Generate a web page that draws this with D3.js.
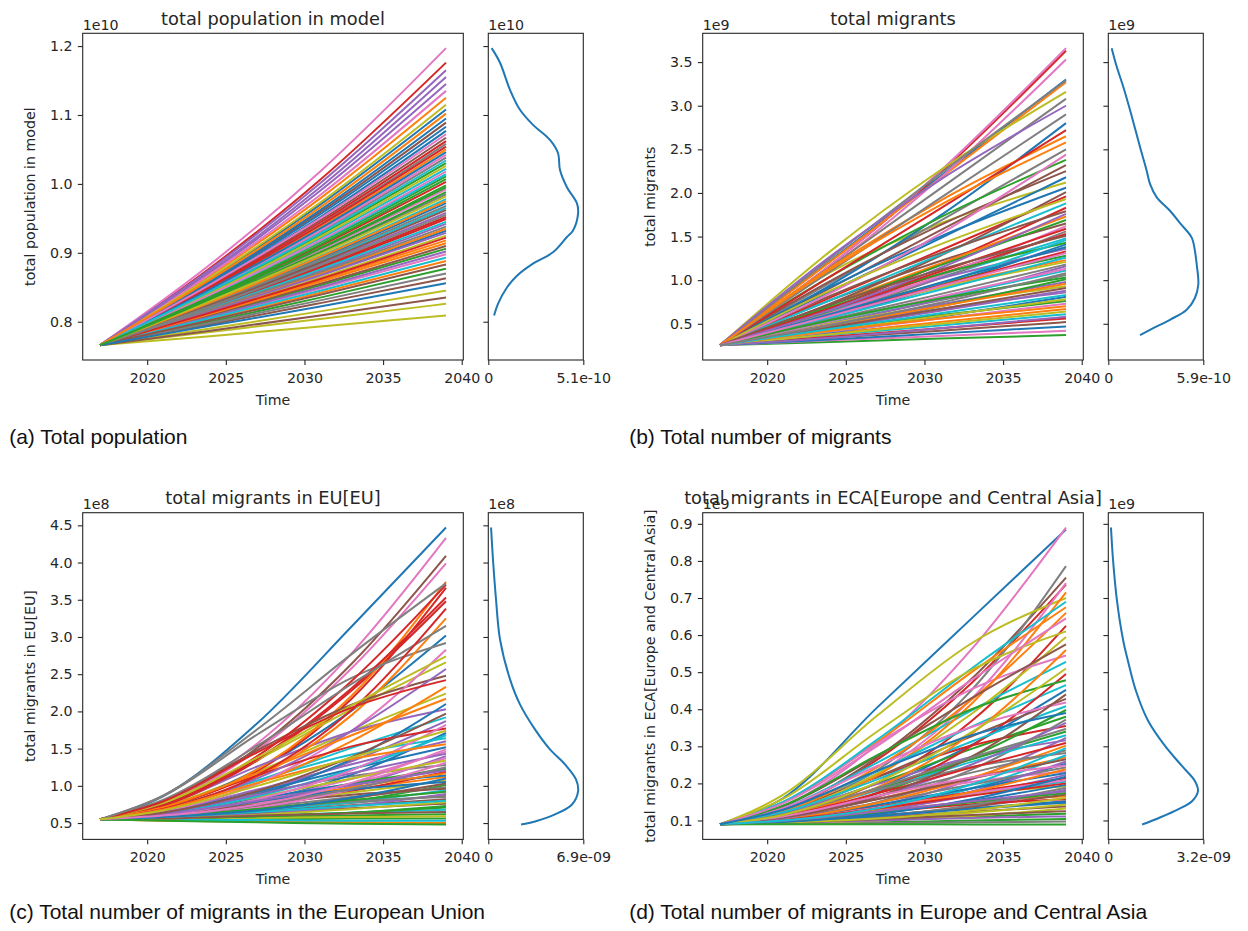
<!DOCTYPE html>
<html><head><meta charset="utf-8">
<script src="https://cdn.jsdelivr.net/npm/d3@7/dist/d3.min.js"></script>
<style>body{margin:0;background:#fff}svg{display:block}</style>
</head><body>
<script>
// ---------- shared axis settings ----------
const xTicks = [2020, 2025, 2030, 2035, 2040];

// ---------- (a) total population (x1e10) ----------
const popYears = [2017, 2024, 2031, 2039];
const popStart = 0.766;
const popSeries = [
 [0.827,0.892,0.972],[0.848,0.937,1.050],[0.808,0.853,0.906],[0.878,1.006,1.176],[0.819,0.874,0.942],
 [0.858,0.959,1.089],[0.883,1.018,1.197],[0.830,0.900,0.985],[0.779,0.793,0.809],[0.840,0.921,1.022],
 [0.816,0.868,0.932],[0.867,0.979,1.125],[0.800,0.835,0.877],[0.835,0.910,1.003],[0.823,0.884,0.958],
 [0.852,0.947,1.067],[0.806,0.848,0.898],[0.844,0.930,1.038],[0.785,0.804,0.826],[0.825,0.888,0.965],
 [0.862,0.970,1.108],[0.812,0.860,0.918],[0.838,0.915,1.011],[0.821,0.878,0.949],[0.871,0.990,1.145],
 [0.796,0.827,0.863],[0.832,0.904,0.992],[0.850,0.941,1.058],[0.814,0.864,0.925],[0.829,0.895,0.978],
 [0.854,0.952,1.077],[0.803,0.842,0.888],[0.843,0.926,1.030],[0.822,0.880,0.952],[0.876,1.001,1.165],
 [0.810,0.855,0.910],[0.845,0.932,1.042],[0.826,0.890,0.968],[0.790,0.815,0.845],[0.838,0.917,1.014],
 [0.859,0.962,1.095],[0.817,0.870,0.935],[0.834,0.907,0.998],[0.849,0.940,1.054],[0.807,0.850,0.902],
 [0.824,0.886,0.962],[0.869,0.984,1.135],[0.798,0.831,0.870],[0.841,0.923,1.026],[0.819,0.876,0.945],
 [0.856,0.956,1.083],[0.811,0.858,0.914],[0.831,0.901,0.988],[0.851,0.944,1.062],[0.815,0.867,0.929],
 [0.787,0.809,0.835],[0.839,0.918,1.018],[0.822,0.882,0.955],[0.864,0.973,1.115],[0.805,0.845,0.893],
 [0.847,0.935,1.046],[0.828,0.894,0.975],[0.836,0.912,1.007],[0.813,0.862,0.922],[0.873,0.995,1.155],
 [0.802,0.839,0.883],[0.854,0.950,1.072],[0.818,0.872,0.938],[0.830,0.898,0.982],[0.844,0.928,1.034],
 [0.794,0.822,0.856],[0.861,0.966,1.102],[0.833,0.906,0.995]
];
const popKdeValue   = [1.197,1.1758,1.1368,1.1076,1.0857,1.0638,1.0448,1.02,0.9952,0.9718,0.9572,0.9324,0.9226,0.9007,0.8842,0.8667,0.8496,0.8258,0.809];
const popKdeDensity = [0.18,0.63,1.16,1.70,2.40,3.31,3.74,3.85,4.22,4.76,4.82,4.55,4.21,3.47,2.40,1.54,1.00,0.52,0.31];
const popYTicks = [0.8, 0.9, 1.0, 1.1, 1.2];

// ---------- (b) total migrants (x1e9) ----------
const migYears = [2017, 2024, 2031, 2039];
const migStart = 0.255;
const migSeries = [
 [1.22,2.19,3.30],[0.62,0.93,1.23],[0.29,0.33,0.37],[1.17,2.23,3.63],[0.45,0.65,0.88],
 [0.77,1.22,1.65],[1.17,2.25,3.66],[0.51,0.77,1.06],[1.09,1.65,2.12],[0.37,0.48,0.61],
 [0.57,0.93,1.41],[1.21,2.17,3.27],[0.44,0.60,0.76],[0.80,1.34,1.96],[0.50,0.78,1.16],
 [0.34,0.42,0.52],[1.14,2.17,3.53],[0.97,1.68,2.50],[0.50,0.72,0.93],[0.64,1.03,1.48],
 [0.94,1.74,2.80],[0.39,0.52,0.67],[0.63,0.96,1.28],[0.68,1.18,1.83],[0.49,0.72,0.98],
 [0.99,1.63,2.25],[0.31,0.36,0.42],[0.61,1.02,1.56],[1.33,2.26,3.16],[0.53,0.80,1.11],
 [0.40,0.58,0.81],[0.72,1.19,1.73],[1.04,1.72,2.38],[0.35,0.45,0.56],[0.66,1.02,1.36],
 [0.73,1.28,2.01],[0.41,0.56,0.73],[1.15,2.05,3.08],[0.61,0.91,1.21],[0.77,1.29,1.88],
 [0.32,0.39,0.47],[1.14,1.91,2.65],[0.46,0.70,1.01],[0.66,1.07,1.53],[0.48,0.67,0.86],
 [0.91,1.57,2.32],[0.62,1.05,1.62],[1.25,2.22,3.29],[0.38,0.50,0.64],[0.57,0.89,1.26],
 [0.92,1.50,2.06],[0.48,0.70,0.96],[0.69,1.07,1.43],[1.04,1.82,2.72],[0.34,0.45,0.58],
 [0.82,1.31,1.79],[0.53,0.81,1.13],[1.10,1.94,2.90],[0.42,0.59,0.78],[0.58,0.96,1.46],
 [0.87,1.48,2.18],[0.42,0.56,0.70],[0.71,1.17,1.69],[0.60,0.94,1.33],[1.27,2.15,3.00],
 [0.46,0.67,0.91],[0.85,1.53,2.44],[0.55,0.84,1.18],[0.88,1.41,1.93],[0.44,0.62,0.83],
 [0.61,0.97,1.38],[1.12,1.86,2.58],[0.54,0.79,1.03],[0.68,1.10,1.59],[0.66,1.14,1.76],
 [0.72,1.12,1.51],[0.59,0.93,1.31],[0.48,0.74,1.08]
];
const migKdeValue   = [3.66,3.449,3.218,2.950,2.526,2.257,2.104,1.949,1.796,1.642,1.488,1.334,1.181,0.950,0.796,0.662,0.546,0.449,0.37];
const migKdeDensity = [0.21,0.52,0.93,1.35,1.97,2.38,2.59,3.01,3.83,4.51,5.18,5.38,5.49,5.59,5.38,4.87,3.83,2.79,1.97];
const migYTicks = [0.5, 1.0, 1.5, 2.0, 2.5, 3.0, 3.5];

// ---------- (c) migrants in EU (x1e8) ----------
const euYears = [2017, 2021, 2027, 2033, 2039];
const euStart = 0.55;
const euSeries = [
 [0.86,1.84,3.14,4.47],[0.61,0.77,0.95,1.12],[0.56,0.58,0.60,0.62],[0.73,1.34,2.28,3.48],[0.59,0.73,0.99,1.40],
 [0.76,1.51,2.64,4.09],[0.78,1.57,2.78,4.33],[0.58,0.67,0.77,0.87],[0.72,1.19,1.73,2.24],[0.69,1.07,1.42,1.64],
 [0.70,1.22,2.01,3.02],[0.53,0.52,0.51,0.50],[0.57,0.65,0.79,1.01],[0.71,1.20,2.17,3.66],[0.63,0.91,1.33,1.87],
 [0.57,0.63,0.70,0.76],[0.76,1.48,2.58,3.99],[0.64,0.90,1.13,1.28],[0.76,1.35,2.03,2.66],[0.57,0.66,0.78,0.94],
 [0.65,0.92,1.23,1.52],[0.71,1.22,2.21,3.74],[0.55,0.55,0.56,0.56],[0.59,0.72,0.93,1.19],[0.74,1.26,1.73,2.03],
 [0.58,0.65,0.74,0.82],[0.60,0.77,1.03,1.37],[0.86,1.69,2.45,2.92],[0.60,0.75,0.91,1.07],[0.56,0.60,0.64,0.68],
 [0.61,0.79,1.15,1.71],[0.69,1.12,1.95,3.25],[0.62,0.81,1.03,1.23],[0.73,1.36,2.31,3.53],[0.57,0.62,0.73,0.89],
 [0.80,1.48,2.09,2.48],[0.61,0.80,1.09,1.46],[0.59,0.71,0.85,0.98],[0.55,0.57,0.58,0.59],[0.69,1.07,1.51,1.92],
 [0.63,0.83,1.02,1.14],[0.66,1.03,1.60,2.33],[0.56,0.59,0.64,0.73],[0.74,1.40,2.41,3.70],[0.66,0.95,1.29,1.60],
 [0.58,0.68,0.83,1.03],[0.66,1.03,1.74,2.83],[0.59,0.69,0.79,0.85],[0.63,0.85,1.10,1.34],[0.54,0.54,0.53,0.53],
 [0.63,0.88,1.36,2.10],[0.61,0.79,0.98,1.17],[0.56,0.59,0.64,0.71],[0.71,1.14,1.53,1.77],[0.67,1.10,1.74,2.57],
 [0.60,0.75,0.88,0.96],[0.59,0.71,0.95,1.31],[0.81,1.54,2.37,3.15],[0.56,0.61,0.69,0.78],[0.62,0.86,1.22,1.68],
 [0.62,0.79,0.95,1.05],[0.71,1.17,1.68,2.17],[0.59,0.69,0.81,0.92],[0.69,1.14,2.02,3.38],[0.64,0.88,1.17,1.43],
 [0.56,0.60,0.63,0.65],[0.61,0.82,1.21,1.82],[0.59,0.74,0.96,1.25],[0.77,1.38,2.08,2.74],[0.58,0.65,0.73,0.80],
 [0.58,0.67,0.84,1.10],[0.68,1.04,1.36,1.56],[0.53,0.51,0.49,0.48],[0.79,1.45,2.05,2.42],[0.62,0.80,1.01,1.21],
 [0.64,0.93,1.39,1.97],[0.60,0.75,1.04,1.49],[0.87,1.76,2.77,3.72],[0.67,1.00,1.38,1.74]
];
const euKdeValue   = [4.47,4.04,3.505,2.968,2.43,2.094,1.758,1.489,1.288,1.086,0.925,0.75,0.616,0.522,0.48];
const euKdeDensity = [0.20,0.34,0.56,0.85,1.58,2.30,3.39,4.48,5.57,6.37,6.52,6.08,4.84,3.39,2.38];
const euYTicks = [0.5, 1.0, 1.5, 2.0, 2.5, 3.0, 3.5, 4.0, 4.5];

// ---------- (d) migrants in Europe and Central Asia (x1e9) ----------
const ecaYears = [2017, 2021, 2027, 2033, 2039];
const ecaStart = 0.09;
const ecaSeries = [
 [0.160,0.405,0.645,0.885],[0.108,0.158,0.216,0.270],[0.091,0.095,0.100,0.104],[0.129,0.264,0.471,0.736],[0.102,0.139,0.211,0.323],
 [0.130,0.270,0.482,0.755],[0.138,0.306,0.562,0.890],[0.125,0.236,0.452,0.786],[0.169,0.383,0.578,0.700],[0.102,0.134,0.171,0.205],
 [0.112,0.188,0.304,0.452],[0.100,0.126,0.150,0.165],[0.119,0.200,0.293,0.380],[0.117,0.202,0.368,0.625],[0.098,0.126,0.168,0.223],
 [0.095,0.108,0.124,0.138],[0.123,0.227,0.428,0.740],[0.110,0.166,0.229,0.289],[0.103,0.139,0.172,0.192],[0.134,0.256,0.397,0.528],
 [0.100,0.134,0.186,0.253],[0.149,0.312,0.500,0.675],[0.093,0.101,0.110,0.118],[0.124,0.217,0.302,0.355],[0.095,0.110,0.138,0.183],
 [0.124,0.218,0.327,0.428],[0.108,0.158,0.204,0.232],[0.091,0.093,0.095,0.097],[0.120,0.226,0.388,0.595],[0.099,0.129,0.187,0.276],
 [0.096,0.114,0.133,0.152],[0.121,0.221,0.415,0.715],[0.108,0.173,0.272,0.398],[0.102,0.137,0.177,0.214],[0.119,0.198,0.271,0.316],
 [0.095,0.112,0.137,0.170],[0.149,0.308,0.454,0.545],[0.105,0.148,0.197,0.243],[0.092,0.099,0.112,0.132],[0.128,0.233,0.353,0.465],
 [0.096,0.119,0.153,0.196],[0.124,0.244,0.426,0.660],[0.115,0.185,0.265,0.340],[0.099,0.122,0.144,0.157],[0.098,0.125,0.178,0.259],
 [0.139,0.274,0.430,0.575],[0.102,0.135,0.173,0.209],[0.104,0.149,0.237,0.372],[0.093,0.104,0.121,0.143],[0.150,0.318,0.510,0.690],
 [0.104,0.142,0.187,0.228],[0.103,0.147,0.215,0.302],[0.098,0.122,0.149,0.174],[0.110,0.175,0.301,0.495],[0.093,0.100,0.107,0.111],
 [0.108,0.157,0.213,0.265],[0.133,0.247,0.352,0.418],[0.095,0.111,0.141,0.188],[0.158,0.340,0.506,0.610],[0.114,0.181,0.258,0.330],
 [0.096,0.112,0.131,0.148],[0.099,0.130,0.177,0.238],[0.140,0.276,0.400,0.478],[0.101,0.132,0.167,0.200],[0.106,0.164,0.251,0.363],
 [0.094,0.103,0.115,0.125],[0.146,0.301,0.479,0.645],[0.115,0.182,0.244,0.282],[0.094,0.105,0.127,0.161],[0.122,0.211,0.313,0.408],
 [0.096,0.117,0.157,0.218],[0.114,0.189,0.334,0.560],[0.090,0.090,0.089,0.089],[0.112,0.173,0.243,0.309],[0.099,0.124,0.152,0.179],
 [0.108,0.164,0.272,0.440],[0.111,0.166,0.216,0.248],[0.116,0.188,0.270,0.347],[0.115,0.203,0.338,0.510],[0.100,0.133,0.197,0.295],
 [0.129,0.234,0.330,0.390]
];
const ecaKdeValue   = [0.89,0.802,0.694,0.586,0.531,0.45,0.369,0.301,0.247,0.206,0.179,0.152,0.130,0.108,0.089];
const ecaKdeDensity = [0.09,0.16,0.29,0.50,0.66,0.93,1.34,1.91,2.48,2.92,3.02,2.82,2.35,1.74,1.14];
const ecaYTicks = [0.1, 0.2, 0.3, 0.4, 0.5, 0.6, 0.7, 0.8, 0.9];

// ---------- page ----------
const svg = d3.select("body").append("svg").attr("width", 1248).attr("height", 931);
const FONT = "DejaVu Sans, Verdana, sans-serif";
const INK = "#262626";
const TICK_FS = 14.2, TITLE_FS = 17.8;
const MAIN_W = 380.6, SIDE_W = 95, H = 326.7, SIDE_GAP = 25;

function styleAxis(sel) {
  sel.select(".domain").remove();
  sel.selectAll(".tick line").attr("stroke", INK).attr("stroke-width", 1.1);
  sel.selectAll(".tick text").attr("fill", INK).attr("font-family", FONT).attr("font-size", TICK_FS);
}

function panel(cfg) {
  const g = svg.append("g");
  const x = d3.scaleLinear().domain([2015.9, 2040.1]).range([cfg.left, cfg.left + MAIN_W]);
  const all = [cfg.start, ...cfg.series.flat()];
  const [lo, hi] = d3.extent(all);
  const pad = (hi - lo) * 0.05;
  const y = d3.scaleLinear().domain([lo - pad, hi + pad]).range([cfg.top + H, cfg.top]);
  const bottom = cfg.top + H;

  // trajectories
  const line = d3.line().x(d => x(d[0])).y(d => y(d[1])).curve(d3.curveMonotoneX);
  cfg.series.forEach((s, i) => {
    const pts = cfg.years.map((yr, j) => [yr, j === 0 ? cfg.start : s[j - 1]]);
    g.append("path").attr("d", line(pts)).attr("fill", "none")
      .attr("stroke", d3.schemeCategory10[i % 10]).attr("stroke-width", 2)
      .attr("stroke-linejoin", "round").attr("stroke-linecap", "butt");
  });

  // main axes
  g.append("g").attr("transform", `translate(0,${bottom})`)
    .call(d3.axisBottom(x).tickValues(xTicks).tickFormat(d3.format("d")).tickSize(4.9).tickPadding(8.1))
    .call(styleAxis);
  g.append("g").attr("transform", `translate(${cfg.left},0)`)
    .call(d3.axisLeft(y).tickValues(cfg.yTicks).tickFormat(d3.format(".1f")).tickSize(4.9).tickPadding(5.2))
    .call(styleAxis);
  g.append("rect").attr("x", cfg.left).attr("y", cfg.top).attr("width", MAIN_W).attr("height", H)
    .attr("fill", "none").attr("stroke", INK).attr("stroke-width", 1.1);

  // texts of the main axes
  const cx = cfg.left + MAIN_W / 2;
  g.append("text").attr("x", cx).attr("y", cfg.top - 8.5).attr("text-anchor", "middle")
    .attr("font-family", FONT).attr("font-size", TITLE_FS).attr("fill", INK).text(cfg.title);
  g.append("text").attr("x", cfg.left).attr("y", cfg.top - 3.5)
    .attr("font-family", FONT).attr("font-size", TICK_FS).attr("fill", INK).text(cfg.offset);
  g.append("text").attr("x", cx).attr("y", bottom + 44.5).attr("text-anchor", "middle")
    .attr("font-family", FONT).attr("font-size", TICK_FS).attr("fill", INK).text("Time");
  g.append("text").attr("transform", `translate(${cfg.left - 47.5},${cfg.top + H / 2}) rotate(-90)`)
    .attr("text-anchor", "middle").attr("font-family", FONT).attr("font-size", TICK_FS).attr("fill", INK)
    .text(cfg.title);

  // density side axes
  const sl = cfg.left + MAIN_W + SIDE_GAP;
  const xs = d3.scaleLinear().domain([0, cfg.densMax]).range([sl, sl + SIDE_W]);
  const kde = cfg.kdeValue.map((v, i) => [cfg.kdeDensity[i], v]);
  g.append("path").attr("d", d3.line().x(d => xs(d[0])).y(d => y(d[1])).curve(d3.curveCatmullRom.alpha(0.5))(kde))
    .attr("fill", "none").attr("stroke", "#1f77b4").attr("stroke-width", 2);
  g.append("g").attr("transform", `translate(0,${bottom})`)
    .call(d3.axisBottom(xs).tickValues([0, cfg.densMax]).tickFormat((d, i) => cfg.densLabels[i]).tickSize(4.9).tickPadding(8.1))
    .call(styleAxis);
  g.append("g").attr("transform", `translate(${sl},0)`)
    .call(d3.axisLeft(y).tickValues(cfg.yTicks).tickFormat("").tickSize(4.9))
    .call(styleAxis);
  g.append("rect").attr("x", sl).attr("y", cfg.top).attr("width", SIDE_W).attr("height", H)
    .attr("fill", "none").attr("stroke", INK).attr("stroke-width", 1.1);
  g.append("text").attr("x", sl).attr("y", cfg.top - 3.5)
    .attr("font-family", FONT).attr("font-size", TICK_FS).attr("fill", INK).text(cfg.offset);

  // caption under the figure
  svg.append("text").attr("x", cfg.left - 73.5).attr("y", cfg.captionY)
    .attr("font-family", "Liberation Sans, Arial, sans-serif").attr("font-size", 21).attr("fill", "#111")
    .text(cfg.caption);
}

panel({left: 82.7, top: 33.3, years: popYears, start: popStart, series: popSeries, yTicks: popYTicks,
  kdeValue: popKdeValue, kdeDensity: popKdeDensity, densMax: 5.1, densLabels: ["0", "5.1e-10"],
  title: "total population in model", offset: "1e10", caption: "(a) Total population", captionY: 444});
panel({left: 702.7, top: 33.3, years: migYears, start: migStart, series: migSeries, yTicks: migYTicks,
  kdeValue: migKdeValue, kdeDensity: migKdeDensity, densMax: 5.9, densLabels: ["0", "5.9e-10"],
  title: "total migrants", offset: "1e9", caption: "(b) Total number of migrants", captionY: 444});
panel({left: 82.7, top: 512.7, years: euYears, start: euStart, series: euSeries, yTicks: euYTicks,
  kdeValue: euKdeValue, kdeDensity: euKdeDensity, densMax: 6.9, densLabels: ["0", "6.9e-09"],
  title: "total migrants in EU[EU]", offset: "1e8", caption: "(c) Total number of migrants in the European Union", captionY: 919});
panel({left: 702.7, top: 512.7, years: ecaYears, start: ecaStart, series: ecaSeries, yTicks: ecaYTicks,
  kdeValue: ecaKdeValue, kdeDensity: ecaKdeDensity, densMax: 3.2, densLabels: ["0", "3.2e-09"],
  title: "total migrants in ECA[Europe and Central Asia]", offset: "1e9", caption: "(d) Total number of migrants in Europe and Central Asia", captionY: 919});
</script>
</body></html>
